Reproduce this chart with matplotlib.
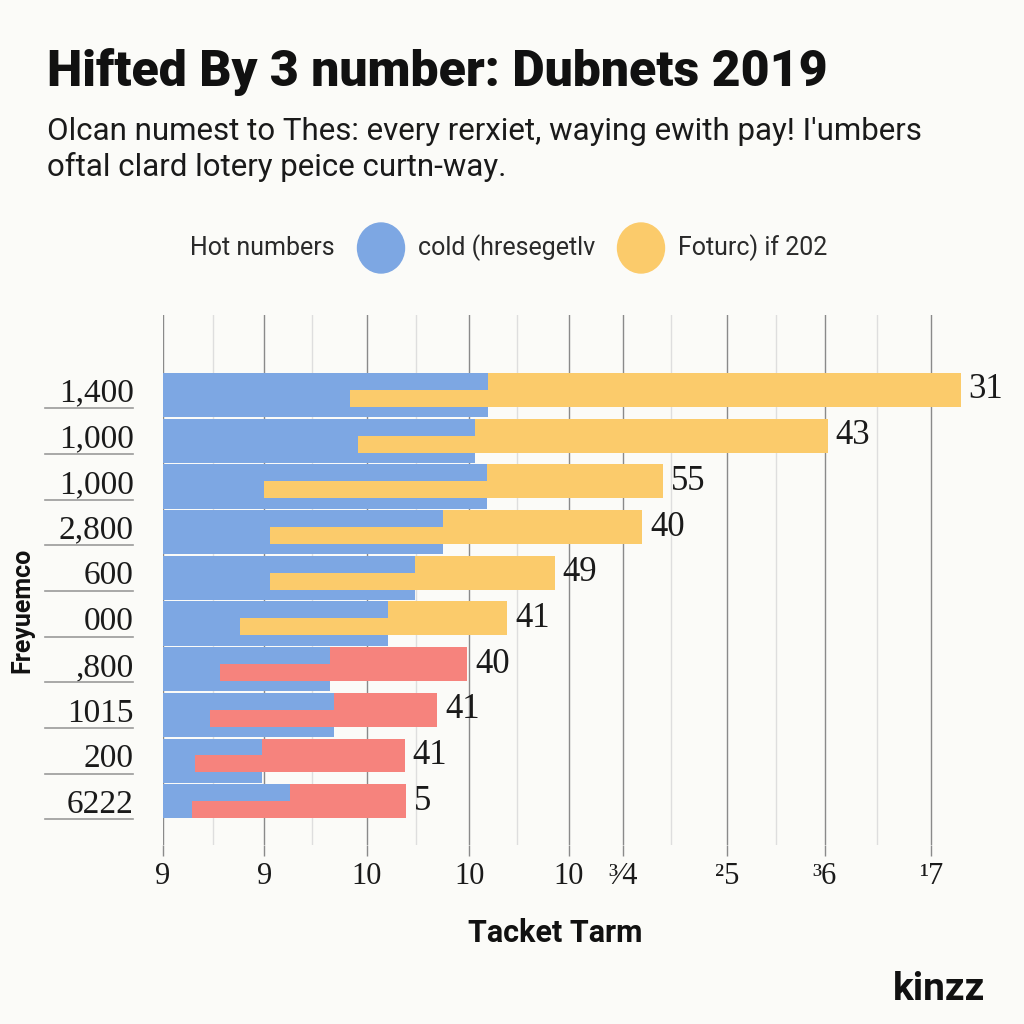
import matplotlib
matplotlib.use("Agg")
import matplotlib.pyplot as plt
from matplotlib.patches import Ellipse
from matplotlib.ticker import FixedLocator
import numpy as np

# ---------------------------------- data ---------------------------------------
row_labels = ["1,400", "1,000", "1,000", "2,800", "600", "000", ",800", "1015", "200", "6222"]
blue_len = [3.20, 3.07, 3.19, 2.76, 2.48, 2.22, 1.65, 1.69, 0.98, 1.25]
strip_start = [1.84, 1.92, 1.00, 1.05, 1.05, 0.76, 0.56, 0.46, 0.32, 0.29]
bar_end = [7.86, 6.55, 4.93, 4.72, 3.86, 3.39, 3.00, 2.70, 2.38, 2.39]
value_labels = ["31", "43", "55", "40", "49", "41", "40", "41", "41", "5"]
is_future = [True, True, True, True, True, True, False, False, False, False]

x_tick_pos = [0, 1.0, 2.01, 3.02, 4.0, 4.53, 5.56, 6.52, 7.57]
x_tick_labels = ["9", "9", "10", "10", "10", "³⁄4", "²5", "³6", "¹7"]
x_minor_pos = [0.49, 1.47, 2.49, 3.49, 5.01, 6.04, 7.04]

title = "Hifted By 3 number: Dubnets 2019"
subtitle = ["Olcan numest to Thes: every rerxiet, waying ewith pay! I'umbers",
            "oftal clard lotery peice curtn-way."]
legend_items = ["Hot numbers", "cold (hresegetlv", "Foturc) if 202"]

BLUE, YELLOW, RED = "#7DA7E3", "#FBCB6B", "#F6837D"
BG = "#FBFBF8"
SERIF = ["Liberation Serif", "DejaVu Serif"]
SANS = ["Roboto", "DejaVu Sans"]

# ---------------------------------- figure -------------------------------------
fig = plt.figure(figsize=(10.24, 10.24), dpi=100, facecolor=BG)
ax = fig.add_axes([163 / 1024, 1 - 845 / 1024, 827 / 1024, 530 / 1024], facecolor=BG)

rows = np.arange(len(row_labels))
blue_h = np.where(rows == rows[-1], 0.74, 0.97)
# blue block spans from the top of its row's bar down to the next row
ax.barh(rows - 0.37, blue_len, height=blue_h, align="edge", color=BLUE, zorder=2)
cols = [YELLOW if f else RED for f in is_future]
ends = np.array(bar_end)
ax.barh(rows, ends - np.array(blue_len), left=blue_len, height=0.74, color=cols, zorder=3)
# stepped lower strip of the second series reaching into the blue block
ax.barh(rows, np.array(blue_len) - np.array(strip_start), left=strip_start, height=0.37,
        align="edge", color=cols, zorder=3)

for r, e, lab in zip(rows, ends, value_labels):
    ax.text(e + 0.08, r, lab, va="center", ha="left", fontsize=25, family=SERIF,
            color="#1a1a1a", zorder=4)

ax.set_xlim(0, 8.15)
ax.set_ylim(9.96, -1.64)

ax.xaxis.set_major_locator(FixedLocator(x_tick_pos))
ax.set_xticklabels(x_tick_labels, fontsize=22, family=SERIF, color="#1a1a1a")
ax.xaxis.set_minor_locator(FixedLocator(x_minor_pos))
ax.tick_params(axis="x", which="major", length=8, width=1.0, color="#8a8a8a", pad=4)
ax.tick_params(axis="x", which="minor", length=0)
ax.grid(axis="x", which="major", color="#8a8a8a", lw=1.0, zorder=0)
ax.grid(axis="x", which="minor", color="#dedede", lw=1.0, zorder=0)
ax.set_axisbelow(True)

ax.set_yticks(rows)
ax.set_yticklabels(row_labels, fontsize=24, family=SERIF, color="#1a1a1a")
ax.tick_params(axis="y", length=0, pad=21)
for sp in ax.spines.values():
    sp.set_visible(False)

# underline under each row label
tr = ax.get_yaxis_transform()
for r in rows:
    ax.plot([-0.1427, -0.0363], [r + 0.40, r + 0.40], transform=tr, color="#9a9a9a",
            lw=1.2, clip_on=False)

# ---------------------------------- text ---------------------------------------
fig.text(47 / 1024, 1 - 72 / 1024, title, fontsize=36, fontweight=900, family=SANS,
         va="center", ha="left", color="#111111")
fig.text(47 / 1024, 1 - 131 / 1024, subtitle[0], fontsize=22.5, family=SANS,
         va="center", ha="left", color="#1a1a1a")
fig.text(47 / 1024, 1 - 167 / 1024, subtitle[1], fontsize=22.5, family=SANS,
         va="center", ha="left", color="#1a1a1a")

ly = 1 - 248 / 1024
fig.text(190 / 1024, ly, legend_items[0], fontsize=18, family=SANS, va="center", color="#2a2a2a")
fig.patches.append(Ellipse((381 / 1024, ly), 47 / 1024, 50 / 1024, color=BLUE,
                           transform=fig.transFigure, figure=fig))
fig.text(418 / 1024, ly, legend_items[1], fontsize=18, family=SANS, va="center", color="#2a2a2a")
fig.patches.append(Ellipse((641 / 1024, ly), 47 / 1024, 50 / 1024, color=YELLOW,
                           transform=fig.transFigure, figure=fig))
fig.text(678 / 1024, ly, legend_items[2], fontsize=18, family=SANS, va="center", color="#2a2a2a")

fig.text(22 / 1024, 1 - 610 / 1024, "Freyuemco", rotation=90, fontsize=18, fontweight="bold",
         family=SANS, va="center", ha="center", color="#111111")
fig.text(555 / 1024, 1 - 933 / 1024, "Tacket Tarm", fontsize=22, fontweight="bold",
         family=SANS, va="center", ha="center", color="#111111")
fig.text(985 / 1024, 1 - 990 / 1024, "kinzz", fontsize=28, fontweight="bold",
         family=SANS, va="center", ha="right", color="#111111")

fig.savefig("out.png", dpi=100, facecolor=BG)
